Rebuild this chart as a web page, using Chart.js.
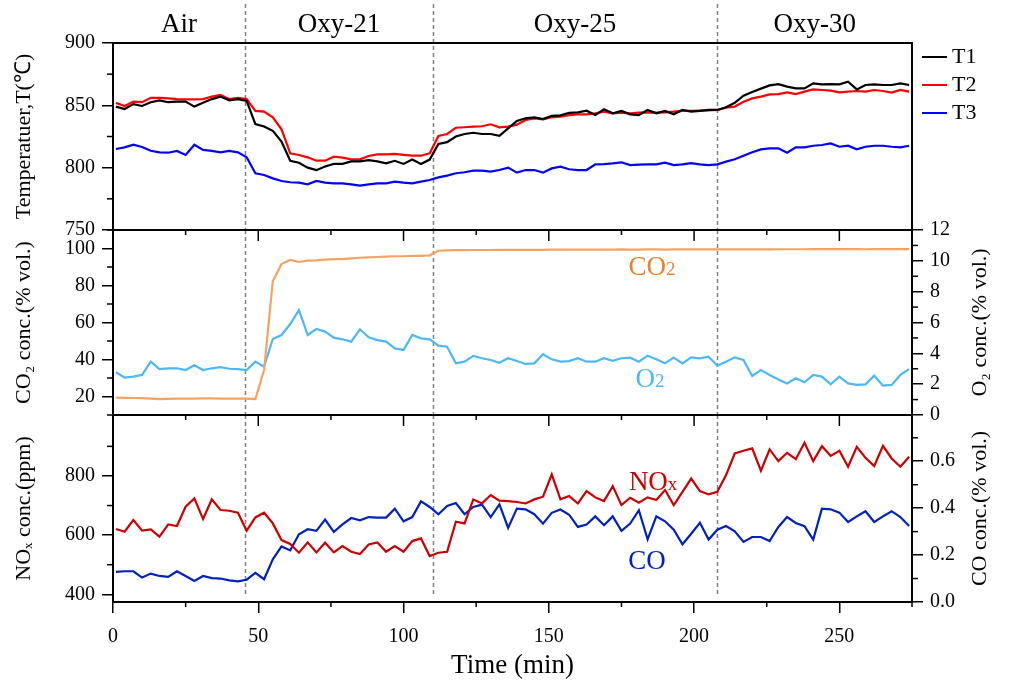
<!DOCTYPE html>
<html>
<head>
<meta charset="utf-8">
<script src="https://cdn.jsdelivr.net/npm/chart.js@4.4.1/dist/chart.umd.min.js"></script>
<style>
  html, body { margin: 0; padding: 0; background: #fff; }
  #wrap { position: relative; width: 1011px; height: 689px; }
  #wrap canvas { position: absolute; left: 0; top: 0; }
</style>
</head>
<body>
<div id="wrap">
  <canvas id="chart-temp" width="1011" height="689"></canvas>
  <canvas id="chart-gas" width="1011" height="689"></canvas>
  <canvas id="chart-emis" width="1011" height="689"></canvas>
</div>
<script>
// Tempo de amostragem (min)
const times = [1, 4, 7, 10, 13, 16, 19, 22, 25, 28, 31, 34, 37, 40, 43, 46, 49, 52, 55, 58,
  61, 64, 67, 70, 73, 76, 79, 82, 85, 88, 91, 94, 97, 100, 103, 106, 109, 112, 115, 118,
  121, 124, 127, 130, 133, 136, 139, 142, 145, 148, 151, 154, 157, 160, 163, 166, 169, 172, 175, 178,
  181, 184, 187, 190, 193, 196, 199, 202, 205, 208, 211, 214, 217, 220, 223, 226, 229, 232, 235, 238,
  241, 244, 247, 250, 253, 256, 259, 262, 265, 268, 271, 274];

// Temperaturas (°C)
const t1 = [849, 847, 851, 849.5, 852.5, 854, 852.5, 853, 853, 849, 852, 855, 857, 854, 855, 853.5,
  835, 833, 829.5, 821, 805.5, 804, 800, 798, 801, 803, 803, 805, 805, 806, 805, 803.5, 805.5, 803, 806.5, 803, 806.5,
  819, 820.5, 825, 827, 828, 827, 827, 825.5, 831.5, 837.5,
  839.6, 840.4, 839, 841.5, 842, 844, 844.4, 845.7, 842.2, 846.8, 843.6, 845.5, 842.8, 842.2, 846.3, 843.6, 845.5, 842.8, 846.3, 845, 845.5, 846.3, 846.3,
  848.4, 852, 857.8, 860.7, 863.4, 866, 867, 865, 863.6, 863.6, 867.6, 866.8, 867, 866.8, 869, 862.8, 866.3, 866.8, 866.3, 866.3, 867.6, 866.3];
const t2 = [852, 849.5, 853, 852.5, 856, 856, 855.6, 855, 854.8, 854.8, 855, 857, 858.3, 855, 856, 855,
  845.5, 845, 840.4, 830.7, 811.5, 810.2, 808.3, 805.6, 805.6, 808.8, 808, 806.7, 806.7, 809.4, 810.7, 810.7, 811, 810.2, 809.6, 809.6, 811.5,
  825.4, 827, 832, 832.4, 832.9, 833.2, 834.8, 832.4, 832.9, 834.5,
  838.2, 839.6, 838.8, 840.4, 841, 842.2, 842.8, 842.8, 843.6, 845, 843.6, 844.1, 843.6, 844.1, 844.4, 844.1, 844.4, 845, 845.5, 845.5, 845.7, 846, 846.3,
  848.1, 849, 852.9, 855.6, 857, 858.8, 859, 860.4, 859, 861, 862.8, 862.3, 861.8, 860.4, 861, 861.5, 861, 862.3, 861.5, 860.2, 862.3, 861];
const t3 = [815, 816.3, 818.4, 816.6, 813.6, 812.3, 812, 813.4, 810.2, 818.4, 814.2, 813.4, 812.3, 813.4, 812.3, 808.3,
  795.5, 794.1, 791.4, 789.3, 788.3, 788, 786.6, 789.3, 788, 787.4, 787.4, 786.6, 785.6, 786.6, 787.4, 787.4, 788.8, 788, 787.4, 788.8, 790.1,
  792.2, 793.6, 795.5, 796.3, 797.6, 797.6, 796.8, 798.1, 800, 796,
  798.1, 798.1, 796, 799.4, 800.8, 798.7, 798.1, 798.1, 802.7, 802.9, 803.5, 804.3, 802.1, 802.4, 802.7, 802.7, 804, 802.1, 802.7, 803.7, 802.7, 802.1, 802.7,
  804.8, 806.7, 809.6, 812.3, 814.7, 815.5, 815.5, 812, 816.3, 816.3, 817.6, 818.2, 819.5, 816.8, 817.6, 814.7, 816.8, 817.6, 817.6, 816.8, 816.3, 817.6];

// CO2 e O2 (% vol.)
const co2 = [19.4, 19.3, 19.2, 19.1, 18.8, 18.6, 18.7, 18.8, 18.8, 18.9, 19, 19, 18.9, 18.9, 18.9, 18.9,
  18.6, 34.3, 82.4, 91.6, 93.8, 92.7, 93.4, 93.6, 94, 94.3, 94.3, 94.7, 95, 95.2, 95.4, 95.6, 95.8, 95.8, 96, 96, 96.3,
  98.8, 99, 99.1, 99.1, 99.2, 99.2, 99.2, 99.3, 99.3, 99.3,
  99.3, 99.3, 99.3, 99.4, 99.4, 99.4, 99.4, 99.4, 99.4, 99.4, 99.4, 99.5, 99.4, 99.4, 99.5, 99.5, 99.4, 99.5, 99.5, 99.5, 99.5, 99.5, 99.5,
  99.5, 99.5, 99.5, 99.5, 99.5, 99.5, 99.6, 99.6, 99.6, 99.6, 99.7, 99.7, 99.7, 99.7, 99.7, 99.7, 99.6, 99.7, 99.7, 99.7, 99.7, 99.7];
const o2 = [2.77, 2.42, 2.49, 2.6, 3.46, 2.98, 3.03, 3.03, 2.92, 3.22, 2.92, 3.03, 3.11, 3.0, 2.98, 2.92,
  3.46, 3.14, 4.93, 5.19, 5.9, 6.81, 5.19, 5.58, 5.41, 5.02, 4.91, 4.76, 5.56, 5.04, 4.86, 4.76, 4.32, 4.22, 5.19, 4.97, 4.91,
  4.5, 4.43, 3.35, 3.46, 3.83, 3.68, 3.57, 3.39, 3.68, 3.5,
  3.31, 3.35, 3.94, 3.61, 3.46, 3.5, 3.68, 3.46, 3.46, 3.68, 3.52, 3.68, 3.72, 3.46, 3.85, 3.61, 3.35, 3.72, 3.35, 3.74, 3.68, 3.78, 3.2,
  3.46, 3.74, 3.57, 2.53, 2.92, 2.6, 2.31, 2.05, 2.38, 2.12, 2.6, 2.49, 1.99, 2.49, 2.05, 1.95, 1.99, 2.55, 1.9, 1.95, 2.6, 2.98];

// NOx (ppm) e CO (% vol.)
const nox = [620.5, 611.6, 651, 615, 619.5, 594.7, 636.4, 630.7, 696, 724, 654.3, 720.8, 684.8, 682.5, 675.8, 615,
  659.9, 675.6, 639.7, 583.4, 569.9, 540.6, 575.5, 541.7, 574.4, 541.7, 563, 543.9, 536, 568.7, 575.5, 543.9, 563, 543.9, 579.9, 588.9, 529.2,
  540.6, 543.9, 645.3, 639.7, 720.8, 707.2, 735.4, 716.3, 715, 712,
  707, 720.8, 729.8, 805, 720.8, 732, 707, 748.9, 727.5, 715, 765.7, 701.5, 726.4, 709.5, 727.5, 718.6, 752.3, 701.5, 746.2, 791.3, 748.9, 737.6, 746.2,
  802.8, 876, 885, 893, 817.5, 889.6, 850, 878.2, 856.8, 912, 850, 900.6, 868, 885, 831, 898.4, 861.3, 833.2, 901.8, 859, 831, 864.7];
const co = [0.128, 0.131, 0.131, 0.104, 0.121, 0.111, 0.107, 0.131, 0.111, 0.09, 0.111, 0.102, 0.1, 0.092, 0.088, 0.095,
  0.124, 0.097, 0.182, 0.237, 0.22, 0.289, 0.31, 0.303, 0.351, 0.299, 0.331, 0.358, 0.348, 0.362, 0.36, 0.36, 0.398, 0.344, 0.362, 0.429, 0.405,
  0.374, 0.409, 0.422, 0.374, 0.405, 0.415, 0.362, 0.416, 0.316, 0.398,
  0.395, 0.374, 0.334, 0.38, 0.394, 0.372, 0.32, 0.33, 0.365, 0.327, 0.365, 0.303, 0.334, 0.391, 0.267, 0.365, 0.344, 0.308, 0.246, 0.291, 0.338, 0.266, 0.308,
  0.324, 0.301, 0.256, 0.277, 0.277, 0.26, 0.32, 0.362, 0.337, 0.323, 0.266, 0.398, 0.395, 0.381, 0.341, 0.365, 0.387, 0.341, 0.365, 0.387, 0.362, 0.324];

// Fases do ensaio
const phaseNames = ["Air", "Oxy-21", "Oxy-25", "Oxy-30"];
const phaseBounds = [45.5, 110, 208];

// Marcas dos eixos
const xTicks = [0, 50, 100, 150, 200, 250];
const tempTicks = [750, 800, 850, 900];
const co2Ticks = [20, 40, 60, 80, 100];
const o2Ticks = [0, 2, 4, 6, 8, 10, 12];
const noxTicks = [400, 600, 800];
const coTicks = [0, 0.2, 0.4, 0.6];

const FONT = "'Liberation Serif', 'Times New Roman', serif";

// Plugin: linhas tracejadas das fases, moldura, ticks menores, textos
const panelDecor = {
  id: "panelDecor",
  beforeDatasetsDraw(chart, args, o) {
    const { ctx, chartArea: a, scales: { x } } = chart;
    ctx.save();
    ctx.strokeStyle = "#808080";
    ctx.lineWidth = 1.5;
    ctx.setLineDash([4, 3]);
    phaseBounds.forEach(t => {
      const px = Math.round(x.getPixelForValue(t)) + 0.5;
      ctx.beginPath();
      ctx.moveTo(px, o.lineTop ?? a.top);
      ctx.lineTo(px, o.lineBottom ?? a.bottom);
      ctx.stroke();
    });
    ctx.restore();
  },
  afterDraw(chart, args, o) {
    const { ctx, chartArea: a, scales } = chart;
    const x = scales.x;
    ctx.save();
    ctx.strokeStyle = "#000";
    ctx.lineWidth = 1.5;
    const seg = (x0, y0, x1, y1) => { ctx.beginPath(); ctx.moveTo(x0, y0); ctx.lineTo(x1, y1); ctx.stroke(); };

    // ticks menores nos eixos y
    Object.values(scales).forEach(s => {
      if (s.axis !== "y") return;
      const vals = s.ticks.map(t => t.value);
      const step = vals[1] - vals[0];
      const dir = s.position === "left" ? -1 : 1;
      const x0 = s.position === "left" ? a.left : a.right;
      for (let v = vals[0] - step / 2; v <= s.max + 1e-9; v += step) {
        if (v < s.min - 1e-9) continue;
        const py = s.getPixelForValue(v);
        seg(x0, py, x0 + dir * 6, py);
      }
    });

    // ticks do eixo x
    const xStep = xTicks[1] - xTicks[0];
    if (o.topTicks) {
      for (let v = 0; v <= x.max; v += xStep / 2) {
        const px = x.getPixelForValue(v);
        const len = (v % xStep === 0) ? 11 : 5;
        seg(px, a.top, px, a.top + len);
      }
    }
    if (o.bottomMinor) {
      for (let v = xStep / 2; v <= x.max; v += xStep) {
        const px = x.getPixelForValue(v);
        seg(px, a.bottom, px, a.bottom + 5);
      }
    }

    // moldura
    ctx.lineWidth = 2;
    ctx.strokeRect(a.left, a.top, a.width, a.height);

    ctx.fillStyle = "#000";
    // rótulos das fases
    if (o.phaseLabels) {
      const edges = [x.min, ...phaseBounds, x.max];
      ctx.font = `27px ${FONT}`;
      ctx.textAlign = "center";
      ctx.textBaseline = "middle";
      phaseNames.forEach((name, i) => {
        const px = x.getPixelForValue((edges[i] + edges[i + 1]) / 2);
        ctx.fillText(name, px, 25);
      });
    }

    // legenda
    if (o.legend) {
      ctx.font = `22px ${FONT}`;
      ctx.textAlign = "left";
      ctx.textBaseline = "middle";
      chart.data.datasets.forEach((ds, i) => {
        const ly = 57 + i * 28;
        ctx.strokeStyle = ds.borderColor;
        ctx.lineWidth = 2;
        seg(a.right + 10, ly, a.right + 35, ly);
        ctx.fillStyle = "#000";
        ctx.fillText(ds.label, a.right + 40, ly);
      });
    }

    // títulos dos eixos da direita (lidos de baixo para cima)
    (o.rightTitles || []).forEach(tt => {
      const s = scales[tt.axis];
      ctx.save();
      ctx.translate(980, (s.top + s.bottom) / 2);
      ctx.rotate(-Math.PI / 2);
      ctx.font = `22px ${FONT}`;
      ctx.fillStyle = "#000";
      ctx.textAlign = "center";
      ctx.textBaseline = "middle";
      ctx.fillText(tt.text, 0, 0);
      ctx.restore();
    });

    // nomes das séries dentro do gráfico
    (o.labels || []).forEach(lb => {
      const s = scales[lb.axis];
      const px = x.getPixelForValue(lb.x);
      const py = s.getPixelForValue(lb.y);
      ctx.textBaseline = "alphabetic";
      ctx.textAlign = "left";
      ctx.font = `27px ${FONT}`;
      const w1 = ctx.measureText(lb.text).width;
      ctx.font = `19px ${FONT}`;
      const w2 = ctx.measureText(lb.sub).width;
      const x0 = px - (w1 + w2) / 2;
      ctx.fillStyle = lb.color;
      ctx.font = `27px ${FONT}`;
      ctx.fillText(lb.text, x0, py);
      ctx.font = `19px ${FONT}`;
      ctx.fillText(lb.sub, x0 + w1, py);
    });
    ctx.restore();
  }
};

const tickFont = { family: FONT, size: 20 };
const gridTicks = { drawOnChartArea: false, drawTicks: true, tickLength: 11, color: "#000", lineWidth: 1.5 };

function xScale(show) {
  return {
    type: "linear",
    min: 0,
    max: 275,
    display: show,
    afterBuildTicks: s => { s.ticks = xTicks.map(v => ({ value: v })); },
    afterFit: s => { if (show) s.height = 87; },
    ticks: { font: tickFont, color: "#000", padding: 12, maxRotation: 0, autoSkip: false },
    grid: gridTicks,
    border: { display: false },
    title: { display: show, text: "Time (min)", color: "#000", font: { family: FONT, size: 27 }, padding: { top: 0, bottom: 7 } }
  };
}

function yScale(position, min, max, tickVals, title, fmt) {
  return {
    type: "linear",
    position,
    min,
    max,
    afterBuildTicks: s => { s.ticks = tickVals.map(v => ({ value: v })); },
    afterFit: s => { s.width = position === "left" ? 113 : 99; },
    ticks: { font: tickFont, color: "#000", padding: 7, autoSkip: false, callback: fmt || (v => String(v)) },
    grid: gridTicks,
    border: { display: false },
    title: {
      display: !!title,
      text: title || "",
      color: "#000",
      font: { family: FONT, size: 22 },
      padding: { top: 11, bottom: 0 }
    }
  };
}

function series(label, vals, color, axisId) {
  return {
    label,
    data: times.map((t, i) => ({ x: t, y: vals[i] })),
    borderColor: color,
    borderWidth: 2.2,
    pointRadius: 0,
    tension: 0,
    fill: false,
    yAxisID: axisId
  };
}

const baseOptions = (padding, scales, decor) => ({
  responsive: false,
  animation: false,
  devicePixelRatio: 1,
  events: [],
  layout: { padding },
  scales,
  plugins: { legend: { display: false }, tooltip: { enabled: false }, panelDecor: decor }
});

// Painel 1: temperaturas
new Chart(document.getElementById("chart-temp"), {
  type: "line",
  data: {
    datasets: [
      series("T1", t1, "#000000", "yT"),
      series("T2", t2, "#ff0000", "yT"),
      series("T3", t3, "#0000ff", "yT")
    ]
  },
  options: baseOptions(
    { top: 43, bottom: 459, left: 0, right: 99 },
    { x: xScale(false), yT: yScale("left", 750, 900, tempTicks, "Temperatuer,T(\u2103)") },
    { lineTop: 4, phaseLabels: true, legend: true }
  ),
  plugins: [panelDecor]
});

// Painel 2: CO2 e O2
new Chart(document.getElementById("chart-gas"), {
  type: "line",
  data: {
    datasets: [
      series("CO2", co2, "#f5a262", "yC"),
      series("O2", o2, "#4db8f5", "yO")
    ]
  },
  options: baseOptions(
    { top: 230, bottom: 274, left: 0, right: 0 },
    {
      x: xScale(false),
      yC: yScale("left", 10, 110, co2Ticks, "CO\u2082 conc.(% vol.)"),
      yO: yScale("right", 0, 12, o2Ticks, null)
    },
    {
      topTicks: true,
      rightTitles: [{ axis: "yO", text: "O\u2082 conc.(% vol.)" }],
      labels: [
        { text: "CO", sub: "2", color: "#e8832f", axis: "yC", x: 185.5, y: 85.7 },
        { text: "O", sub: "2", color: "#4db8f5", axis: "yO", x: 184.8, y: 1.84 }
      ]
    }
  ),
  plugins: [panelDecor]
});

// Painel 3: NOx e CO
new Chart(document.getElementById("chart-emis"), {
  type: "line",
  data: {
    datasets: [
      series("NOx", nox, "#cc0000", "yN"),
      series("CO", co, "#0022bb", "yCO")
    ]
  },
  options: baseOptions(
    { top: 415, bottom: 0, left: 0, right: 0 },
    {
      x: xScale(true),
      yN: yScale("left", 374, 1006, noxTicks, "NO\u2093 conc.(ppm)"),
      yCO: yScale("right", 0, 0.797, coTicks, null, v => v.toFixed(1))
    },
    {
      topTicks: true,
      bottomMinor: true,
      lineBottom: 596,
      rightTitles: [{ axis: "yCO", text: "CO conc.(% vol.)" }],
      labels: [
        { text: "NO", sub: "x", color: "#cc0000", axis: "yN", x: 185.9, y: 752 },
        { text: "CO", sub: "", color: "#0022bb", axis: "yCO", x: 183.8, y: 0.139 }
      ]
    }
  ),
  plugins: [panelDecor]
});
</script>
</body>
</html>
